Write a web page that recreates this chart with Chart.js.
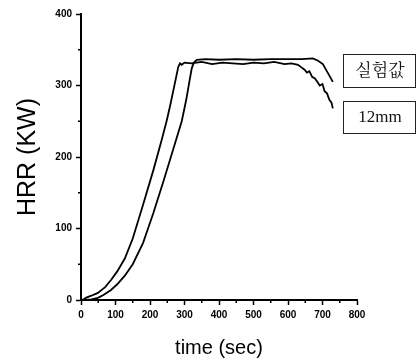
<!DOCTYPE html>
<html>
<head>
<meta charset="utf-8">
<script src="https://cdn.jsdelivr.net/npm/chart.js@4/dist/chart.umd.min.js"></script>
<style>
  body { margin: 0; background: #fff; }
  #box { width: 416px; height: 362px; }
</style>
</head>
<body>
<div id="box"><canvas id="hrr-chart" width="416" height="362"></canvas></div>
<script>
// labels of the two boxes at the right
const seriesNames = ['실험값', '12mm'];

// 실험값 curve (rises later, smooth fall at the end)
const timeExp = [0, 15, 30, 49, 65, 87, 105, 127, 150, 180, 210, 239, 268, 292, 305, 314, 321, 327, 336, 360, 400, 450, 500, 550, 600, 640, 672, 686, 701, 715, 730];
const hrrExp = [0, 0, 1, 3, 7, 14, 22, 34, 50, 80, 122, 166, 212, 250, 280, 305, 324, 332, 336, 337, 336, 337, 336, 337, 337, 337, 338, 335, 330, 318, 305];

// 12mm curve (rises earlier, jagged fall at the end)
const time12 = [0, 8, 14, 30, 49, 70, 87, 105, 127, 150, 181, 210, 234, 248, 258, 272, 282, 287, 292, 300, 320, 350, 380, 410, 440, 470, 500, 530, 560, 590, 610, 629, 640, 648, 655, 662, 670, 678, 684, 692, 700, 706, 713, 720, 726, 730];
const hrr12 = [0, 1, 3, 6, 10, 18, 28, 40, 58, 86, 135, 182, 224, 250, 271, 303, 326, 331, 329, 332, 331, 333, 330, 332, 331, 330, 332, 331, 333, 330, 331, 329, 325, 322, 318, 320, 312, 310, 306, 300, 302, 292, 289, 280, 276, 268];

// axes
const xTicks = [0, 100, 200, 300, 400, 500, 600, 700, 800];
const yTicks = [0, 100, 200, 300, 400];
const xMinor = [50, 150, 250, 350, 450, 550, 650, 750];
const yMinor = [50, 150, 250, 350];

function toPoints(xs, ys) {
  return xs.map((x, i) => ({x: x, y: ys[i]}));
}

// short minor ticks outside the axes
const minorTicks = {
  id: 'minorTicks',
  afterDraw(chart) {
    const ctx = chart.ctx;
    const xs = chart.scales.x, ys = chart.scales.y;
    ctx.save();
    ctx.strokeStyle = '#000';
    ctx.lineWidth = 1.5;
    ctx.beginPath();
    xMinor.forEach(v => {
      const px = xs.getPixelForValue(v);
      ctx.moveTo(px, xs.top);
      ctx.lineTo(px, xs.top + 3);
    });
    yMinor.forEach(v => {
      const py = ys.getPixelForValue(v);
      ctx.moveTo(ys.right, py);
      ctx.lineTo(ys.right - 3, py);
    });
    ctx.stroke();
    ctx.restore();
  }
};

// boxed labels on the right
const nameBoxes = {
  id: 'nameBoxes',
  afterDraw(chart) {
    const ctx = chart.ctx;
    const boxes = [[343, 54, 72, 33], [343, 101, 72, 32]];
    ctx.save();
    ctx.strokeStyle = '#222';
    ctx.lineWidth = 1;
    ctx.fillStyle = '#111';
    ctx.font = '17px "Liberation Serif", "Noto Serif CJK KR", "Noto Sans CJK KR", serif';
    ctx.textAlign = 'center';
    ctx.textBaseline = 'middle';
    boxes.forEach((b, i) => {
      ctx.strokeRect(b[0] + 0.5, b[1] + 0.5, b[2], b[3]);
      ctx.fillText(chart.data.datasets[i].label, b[0] + b[2] / 2 + 1, b[1] + b[3] / 2 + 1);
    });
    ctx.restore();
  }
};

var box = document.getElementById('hrr-chart');
var grafico = new Chart(box, {
  type: 'line',
  data: {
    datasets: [
      {
        label: seriesNames[0],
        data: toPoints(timeExp, hrrExp),
        borderColor: '#000',
        borderWidth: 1.8,
        pointRadius: 0,
        tension: 0,
        fill: false
      },
      {
        label: seriesNames[1],
        data: toPoints(time12, hrr12),
        borderColor: '#000',
        borderWidth: 1.8,
        pointRadius: 0,
        tension: 0,
        fill: false
      }
    ]
  },
  options: {
    responsive: false,
    animation: false,
    layout: { padding: { top: 14, right: 59, left: 0, bottom: 0 } },
    plugins: {
      legend: { display: false },
      tooltip: { enabled: false }
    },
    scales: {
      x: {
        type: 'linear',
        min: 0,
        max: 800,
        afterFit: function (scale) { scale.height = 62; },
        afterBuildTicks: function (scale) { scale.ticks = xTicks.map(v => ({value: v})); },
        border: { display: true, color: '#000', width: 2 },
        grid: { drawOnChartArea: false, drawTicks: true, tickLength: 5, tickColor: '#000', tickWidth: 1.5 },
        ticks: {
          color: '#000',
          padding: 4,
          maxRotation: 0,
          autoSkip: false,
          font: { family: '"Liberation Sans", Arial, sans-serif', size: 10, weight: 'bold' }
        },
        title: {
          display: true,
          text: 'time (sec)',
          color: '#000',
          padding: { top: 0, bottom: 2 },
          font: { family: '"Liberation Sans", Arial, sans-serif', size: 20 }
        }
      },
      y: {
        type: 'linear',
        min: 0,
        max: 400,
        afterFit: function (scale) { scale.width = 81; },
        afterBuildTicks: function (scale) { scale.ticks = yTicks.map(v => ({value: v})); },
        border: { display: true, color: '#000', width: 2 },
        grid: { drawOnChartArea: false, drawTicks: true, tickLength: 5, tickColor: '#000', tickWidth: 1.5 },
        ticks: {
          color: '#000',
          padding: 4,
          autoSkip: false,
          font: { family: '"Liberation Sans", Arial, sans-serif', size: 10, weight: 'bold' }
        },
        title: {
          display: true,
          text: 'HRR (KW)',
          color: '#000',
          padding: { top: 13, bottom: 0 },
          font: { family: '"Liberation Sans", Arial, sans-serif', size: 25 }
        }
      }
    }
  },
  plugins: [minorTicks, nameBoxes]
});
</script>
</body>
</html>
